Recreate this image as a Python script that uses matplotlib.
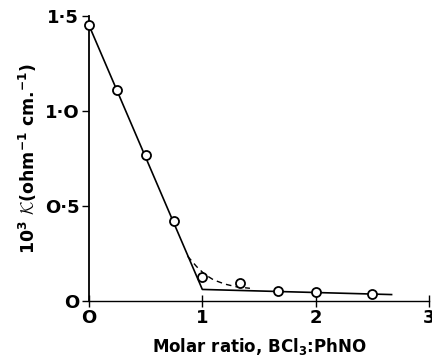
import matplotlib
matplotlib.use('Agg')
import matplotlib.pyplot as plt

# measured points (molar ratio, 10^3 kappa)
ratio = [0.0, 0.25, 0.5, 0.75, 1.0, 1.33, 1.67, 2.0, 2.5]
kappa = [1.45, 1.11, 0.765, 0.42, 0.125, 0.093, 0.05, 0.046, 0.035]

# solid fitted lines
line_x = [0.0, 1.0, 2.67]
line_y = [1.45, 0.06, 0.033]

# dashed curve near the break
dash_x = [0.87, 0.95, 1.02, 1.1, 1.2, 1.3, 1.42]
dash_y = [0.235, 0.18, 0.14, 0.11, 0.088, 0.074, 0.066]

xticks = [0, 1, 2, 3]
xtick_labels = ['O', '1', '2', '3']
yticks = [0, 0.5, 1.0, 1.5]
ytick_labels = ['O', 'O·5', '1·O', '1·5']

plt.rcParams['font.family'] = ['DejaVu Sans']
plt.rcParams['font.weight'] = 'bold'
plt.rcParams['mathtext.fontset'] = 'cm'
plt.rcParams['mathtext.default'] = 'regular'

fig = plt.figure(figsize=(4.32, 3.59), dpi=100)
ax = fig.add_axes([0.206, 0.162, 0.787, 0.794])

ax.plot(line_x, line_y, color='black', lw=1.2)
ax.plot(dash_x, dash_y, color='black', lw=1.0, ls=(0, (4, 3)))
ax.plot(ratio, kappa, ls='none', marker='o', ms=6.5, mfc='white',
        mec='black', mew=1.3, clip_on=False, zorder=3)

ax.set_xlim(0, 3)
ax.set_ylim(0, 1.5)
ax.spines['top'].set_visible(False)
ax.spines['right'].set_visible(False)
ax.spines['left'].set_linewidth(1.3)
ax.spines['bottom'].set_linewidth(1.0)
ax.set_xticks(xticks)
ax.set_xticklabels(xtick_labels, fontsize=13, fontweight='bold')
ax.set_yticks(yticks)
ax.set_yticklabels(ytick_labels, fontsize=13, fontweight='bold')
ax.tick_params(axis='x', direction='inout', length=8, width=1, pad=2)
ax.tick_params(axis='y', direction='out', length=5, width=1, pad=2)

ax.set_xlabel(r'Molar ratio, BCl$_3$:PhNO', fontsize=12, fontweight='bold', labelpad=6)
ax.set_ylabel(r'10$^3$ $\mathcal{K}$(ohm$^{-1}$ cm.$^{-1}$)', fontsize=12.5,
              fontweight='bold', labelpad=4)

fig.savefig('out.png', dpi=100)
